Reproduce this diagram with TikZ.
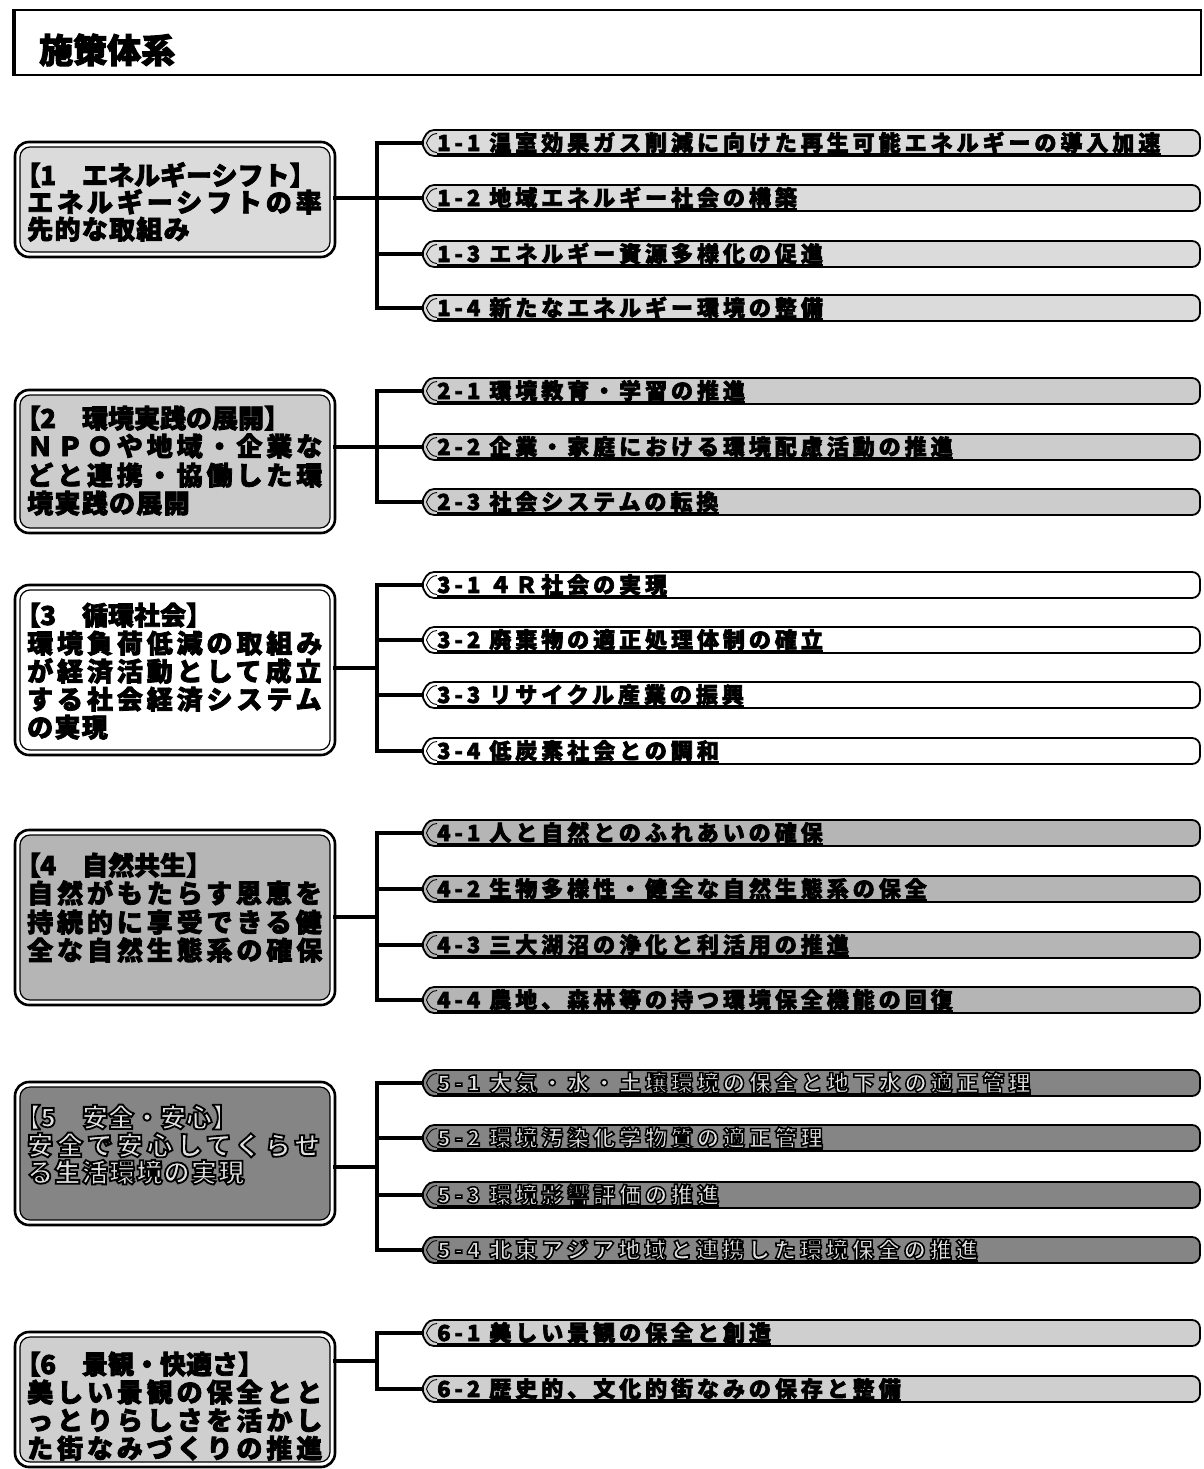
\documentclass[tikz,border=0pt]{standalone}
\usepackage{fontspec}
\newfontfamily\jpn{Noto Sans CJK JP}[FakeBold=3]
\newfontfamily\jpnsp{Noto Sans CJK JP}[LetterSpace=15,FakeBold=3]
\newfontfamily\jpnsl{Noto Sans CJK JP}[LetterSpace=5,FakeBold=3]
\newfontfamily\jpnpill{Noto Sans CJK JP}[LetterSpace=18,FakeBold=3]
\newcommand\lbr{{\addfontfeature{RawFeature=+palt}【}}
\newcommand\outl[1]{{\addfontfeature{FakeBold=7}\special{pdf:bcolor [0.88] [0]}#1\special{pdf:ecolor}}}
\definecolor{fillA}{gray}{0.86}
\definecolor{fillB}{gray}{0.80}
\definecolor{fillC}{gray}{1.00}
\definecolor{fillD}{gray}{0.71}
\definecolor{fillE}{gray}{0.52}
\definecolor{fillF}{gray}{0.81}
\tikzset{
  outerbox/.style={draw, line width=2.6pt, rounded corners=14pt, minimum width=320pt,
    inner sep=0pt, outer sep=0pt, fill=white},
  innerbox/.style={draw, line width=1.2pt, rounded corners=10pt},
  hd/.style={anchor=base west, inner sep=0pt, font=\jpn\bfseries\fontsize{26}{28}\selectfont},
  bf/.style={anchor=base west, inner sep=0pt, font=\jpnsp\bfseries\fontsize{26}{28}\selectfont},
  bs/.style={anchor=base west, inner sep=0pt, font=\jpnsl\bfseries\fontsize{26}{28}\selectfont},
  pillnode/.style={minimum width=778pt, minimum height=26pt, inner sep=0pt, outer sep=0pt},
  pilledge/.style={draw, line width=1.8pt, line join=round},
  pillinner/.style={draw, line width=0.9pt},
  pilltext/.style={anchor=base west, inner sep=0pt, font=\jpnpill\bfseries\fontsize{22}{24}\selectfont},
  uline/.style={line width=2pt},
  conn/.style={line width=3.4pt, line join=miter, line cap=rect},
  darktext/.style={text=black}
}
\newcommand\pillpath[2]{%
  \draw[pilledge, fill=#2] ([xshift=12pt]#1.north west) -- ([xshift=-8pt]#1.north east)
    to[out=0,in=90] ([yshift=-8pt]#1.north east) -- ([yshift=8pt]#1.south east)
    to[out=-90,in=0] ([xshift=-8pt]#1.south east) -- ([xshift=12pt]#1.south west)
    to[out=180,in=-70] (#1.west) to[out=70,in=180] ([xshift=12pt]#1.north west) -- cycle;
  \draw[pillinner] ([xshift=15pt,yshift=-3.5pt]#1.north west) to[out=180,in=70]
    ([xshift=4.5pt]#1.west) to[out=-70,in=180] ([xshift=15pt,yshift=3.5pt]#1.south west);}
\newcommand\mkpill[5]{%
  \node[pillnode] (p#1) at (811,#2) {};
  \pillpath{p#1}{#3}
  \node[pilltext,#4] (t#1) at ([xshift=15pt,yshift=-8pt]p#1.west) {#5};
  \draw[uline] ([yshift=-3pt]t#1.base west) -- ([yshift=-3pt]t#1.base east);}
\newcommand\mkbox[4]{%
  \node[outerbox, minimum height=#3pt] (#1) at (175,#2) {};
  \draw[innerbox, fill=#4] ([xshift=5pt,yshift=-5pt]#1.north west) rectangle ([xshift=-5pt,yshift=5pt]#1.south east);}
\begin{document}
\begin{tikzpicture}[x=1pt,y=-1pt]
\useasboundingbox (0,0) rectangle (1203,1469);
% title
\node[draw, line width=2pt, minimum width=1188pt, minimum height=65pt, inner sep=0pt, outer sep=0pt] (tbox) at (607,43) {};
\draw[line width=4pt] ([xshift=1pt]tbox.north west) -- ([xshift=1pt]tbox.south west);
\node[anchor=base west, inner sep=0pt, font=\jpn\bfseries\fontsize{34}{36}\selectfont] (ttl) at (39,63) {施策体系};

% ---------- group 1
\mkbox{b1}{199.5}{115}{fillA}
\node[hd] (b1a) at (27,185) {\lbr 1　エネルギーシフト】};
\node[bf] (b1b) at (27,212) {エネルギーシフトの率};
\node[bs] (b1c) at (27,239) {先的な取組み};
\mkpill{11}{143}{fillA}{darktext}{1-1 温室効果ガス削減に向けた再生可能エネルギーの導入加速}
\mkpill{12}{198}{fillA}{darktext}{1-2 地域エネルギー社会の構築}
\mkpill{13}{254}{fillA}{darktext}{1-3 エネルギー資源多様化の促進}
\mkpill{14}{308}{fillA}{darktext}{1-4 新たなエネルギー環境の整備}
\coordinate (j1) at (377,198);
\draw[conn] (b1.east |- j1) -- (j1);
\draw[conn] (p11.west) -- (p11.west -| j1) -- (p14.west -| j1) -- (p14.west);
\draw[conn] (p12.west -| j1) -- (p12.west);
\draw[conn] (p13.west -| j1) -- (p13.west);

% ---------- group 2
\mkbox{b2}{461.5}{143}{fillB}
\node[hd] (b2a) at (27,428) {\lbr 2　環境実践の展開】};
\node[bf] (b2b) at (27,456) {ＮＰＯや地域・企業な};
\node[bf] (b2c) at (27,485) {どと連携・協働した環};
\node[bs] (b2d) at (27,513) {境実践の展開};
\mkpill{21}{391}{fillB}{darktext}{2-1 環境教育・学習の推進}
\mkpill{22}{447}{fillB}{darktext}{2-2 企業・家庭における環境配慮活動の推進}
\mkpill{23}{502}{fillB}{darktext}{2-3 社会システムの転換}
\coordinate (j2) at (377,447);
\draw[conn] (b2.east |- j2) -- (j2);
\draw[conn] (p21.west) -- (p21.west -| j2) -- (p23.west -| j2) -- (p23.west);
\draw[conn] (p22.west -| j2) -- (p22.west);

% ---------- group 3
\mkbox{b3}{670}{170}{fillC}
\node[hd] (b3a) at (27,625) {\lbr 3　循環社会】};
\node[bf] (b3b) at (27,653) {環境負荷低減の取組み};
\node[bf] (b3c) at (27,681) {が経済活動として成立};
\node[bf] (b3d) at (27,709) {する社会経済システム};
\node[bs] (b3e) at (27,737) {の実現};
\mkpill{31}{585}{fillC}{darktext}{3-1 ４Ｒ社会の実現}
\mkpill{32}{640}{fillC}{darktext}{3-2 廃棄物の適正処理体制の確立}
\mkpill{33}{695}{fillC}{darktext}{3-3 リサイクル産業の振興}
\mkpill{34}{751}{fillC}{darktext}{3-4 低炭素社会との調和}
\coordinate (j3) at (377,668);
\draw[conn] (b3.east |- j3) -- (j3);
\draw[conn] (p31.west) -- (p31.west -| j3) -- (p34.west -| j3) -- (p34.west);
\draw[conn] (p32.west -| j3) -- (p32.west);
\draw[conn] (p33.west -| j3) -- (p33.west);

% ---------- group 4
\mkbox{b4}{917.5}{175}{fillD}
\node[hd] (b4a) at (27,875) {\lbr 4　自然共生】};
\node[bf] (b4b) at (27,903) {自然がもたらす恩恵を};
\node[bf] (b4c) at (27,932) {持続的に享受できる健};
\node[bf] (b4d) at (27,960) {全な自然生態系の確保};
\mkpill{41}{833}{fillD}{darktext}{4-1 人と自然とのふれあいの確保}
\mkpill{42}{889}{fillD}{darktext}{4-2 生物多様性・健全な自然生態系の保全}
\mkpill{43}{945}{fillD}{darktext}{4-3 三大湖沼の浄化と利活用の推進}
\mkpill{44}{1000}{fillD}{darktext}{4-4 農地、森林等の持つ環境保全機能の回復}
\coordinate (j4) at (377,917);
\draw[conn] (b4.east |- j4) -- (j4);
\draw[conn] (p41.west) -- (p41.west -| j4) -- (p44.west -| j4) -- (p44.west);
\draw[conn] (p42.west -| j4) -- (p42.west);
\draw[conn] (p43.west -| j4) -- (p43.west);

% ---------- group 5
\mkbox{b5}{1153.5}{143}{fillE}
\node[hd] (b5a) at (27,1127) {\outl{\lbr 5　安全・安心】}};
\node[bf] (b5b) at (27,1155) {\outl{安全で安心してくらせ}};
\node[bs] (b5c) at (27,1182) {\outl{る生活環境の実現}};
\mkpill{51}{1083}{fillE}{darktext}{\outl{5-1 大気・水・土壌環境の保全と地下水の適正管理}}
\mkpill{52}{1138}{fillE}{darktext}{\outl{5-2 環境汚染化学物質の適正管理}}
\mkpill{53}{1195}{fillE}{darktext}{\outl{5-3 環境影響評価の推進}}
\mkpill{54}{1250}{fillE}{darktext}{\outl{5-4 北東アジア地域と連携した環境保全の推進}}
\coordinate (j5) at (377,1167);
\draw[conn] (b5.east |- j5) -- (j5);
\draw[conn] (p51.west) -- (p51.west -| j5) -- (p54.west -| j5) -- (p54.west);
\draw[conn] (p52.west -| j5) -- (p52.west);
\draw[conn] (p53.west -| j5) -- (p53.west);

% ---------- group 6
\mkbox{b6}{1399.5}{135}{fillF}
\node[hd] (b6a) at (27,1374) {\lbr 6　景観・快適さ】};
\node[bf] (b6b) at (27,1402) {美しい景観の保全とと};
\node[bf] (b6c) at (27,1430) {っとりらしさを活かし};
\node[bf] (b6d) at (27,1458) {た街なみづくりの推進};
\mkpill{61}{1333}{fillF}{darktext}{6-1 美しい景観の保全と創造}
\mkpill{62}{1389}{fillF}{darktext}{6-2 歴史的、文化的街なみの保存と整備}
\coordinate (j6) at (377,1361);
\draw[conn] (b6.east |- j6) -- (j6);
\draw[conn] (p61.west) -- (p61.west -| j6) -- (p62.west -| j6) -- (p62.west);
\end{tikzpicture}
\end{document}
